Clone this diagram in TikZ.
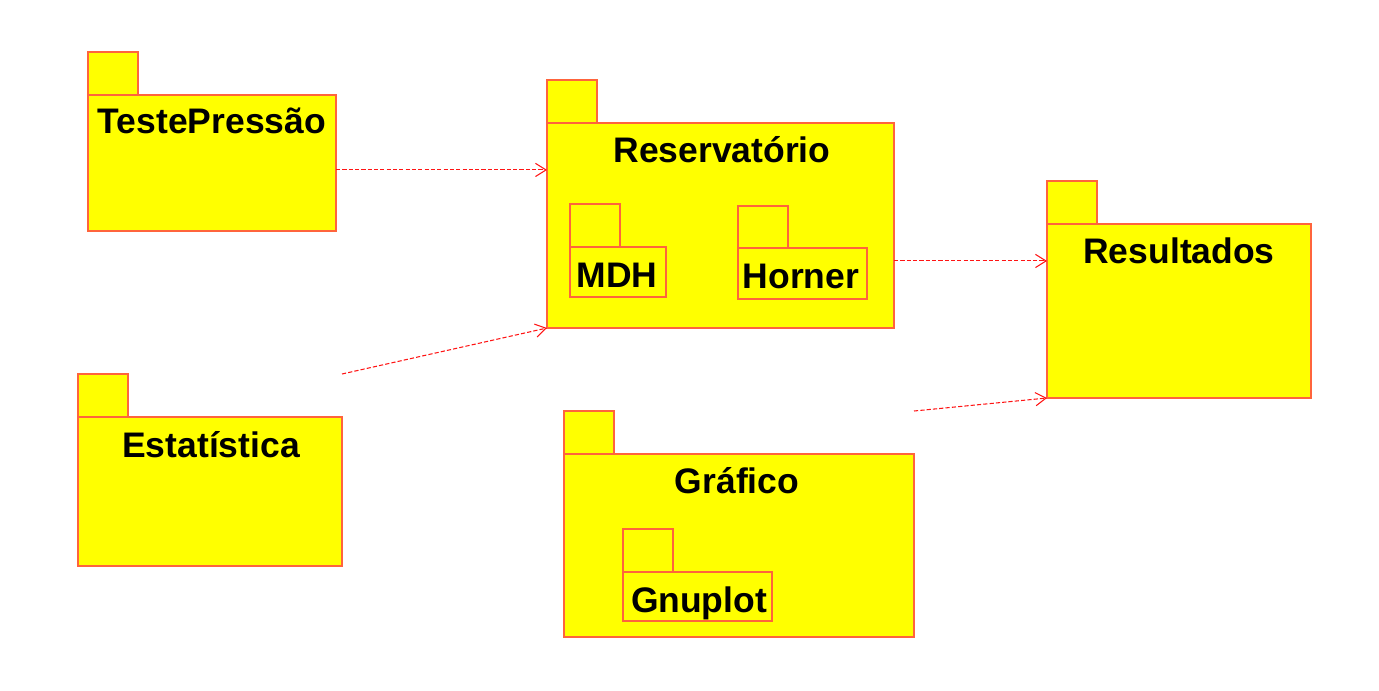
\documentclass[tikz,border=0pt]{standalone}
\usepackage{fontspec}
\setmainfont{Liberation Sans}
\usetikzlibrary{arrows.meta,calc,fit}
\definecolor{pkgline}{RGB}{255,100,60}
\definecolor{pkgfill}{RGB}{255,255,0}
\definecolor{depline}{RGB}{255,20,20}
\begin{document}
\begin{tikzpicture}[x=0.02cm,y=-0.02cm,
  pkgbox/.style={draw=pkgline, fill=pkgfill, line width=0.7pt, inner sep=0pt, outer sep=0pt},
  lbl/.style={anchor=base, inner sep=0pt, font=\fontsize{20.2pt}{22pt}\selectfont\bfseries},
  dep/.style={draw=depline, line width=0.6pt, dash pattern=on 2.4pt off 1.2pt,
    -{Straight Barb[length=6pt,width=7.5pt,line width=0.6pt]}}]
\useasboundingbox (0,0) rectangle (1379,690);
% TestePressao
\node[pkgbox, fit={(88,52) (138,95)}] (tpTab) {};
\node[pkgbox, fit={(88,95) (336,231)}] (tp) {};
\node[lbl] (tpL) at (212,133) {TestePressão};
% Reservatorio
\node[pkgbox, fit={(547,80) (597,123)}] (resTab) {};
\node[pkgbox, fit={(547,123) (894,328)}] (res) {};
\node[lbl] (resL) at (722,162) {Reservatório};
\node[pkgbox, fit={(570,204) (620,247)}] (mdhTab) {};
\node[pkgbox, fit={(570,247) (666,297)}] (mdh) {};
\node[lbl] (mdhL) at (617,287) {MDH};
\node[pkgbox, fit={(738,206) (788,248)}] (horTab) {};
\node[pkgbox, fit={(738,248) (867,299)}] (hor) {};
\node[lbl] (horL) at (801,288) {Horner};
% Resultados
\node[pkgbox, fit={(1047,181) (1097,224)}] (resuTab) {};
\node[pkgbox, fit={(1047,224) (1311,398)}] (resu) {};
\node[lbl] (resuL) at (1179,263) {Resultados};
% Estatistica
\node[pkgbox, fit={(78,374) (128,417)}] (estTab) {};
\node[pkgbox, fit={(78,417) (342,566)}] (est) {};
\node[lbl] (estL) at (211,457) {Estatística};
% Grafico
\node[pkgbox, fit={(564,411) (614,454)}] (grafTab) {};
\node[pkgbox, fit={(564,454) (914,637)}] (graf) {};
\node[lbl] (grafL) at (737,493) {Gráfico};
\node[pkgbox, fit={(623,529) (673,572)}] (gnuTab) {};
\node[pkgbox, fit={(623,572) (772,621)}] (gnu) {};
\node[lbl] (gnuL) at (699,612) {Gnuplot};
% dependencies
\coordinate (tpOut) at ($(tp.north east)!0.551!(tp.south east)$);
\draw[dep] (tpOut) -- (tpOut -| res.west);
\draw[dep] (est.east |- estTab.north) -- (res.south west);
\coordinate (resOut) at ($(res.north east)!0.673!(res.south east)$);
\draw[dep] (resOut) -- (resOut -| resu.west);
\draw[dep] (graf.east |- grafTab.north) -- (resu.south west);
\end{tikzpicture}
\end{document}
